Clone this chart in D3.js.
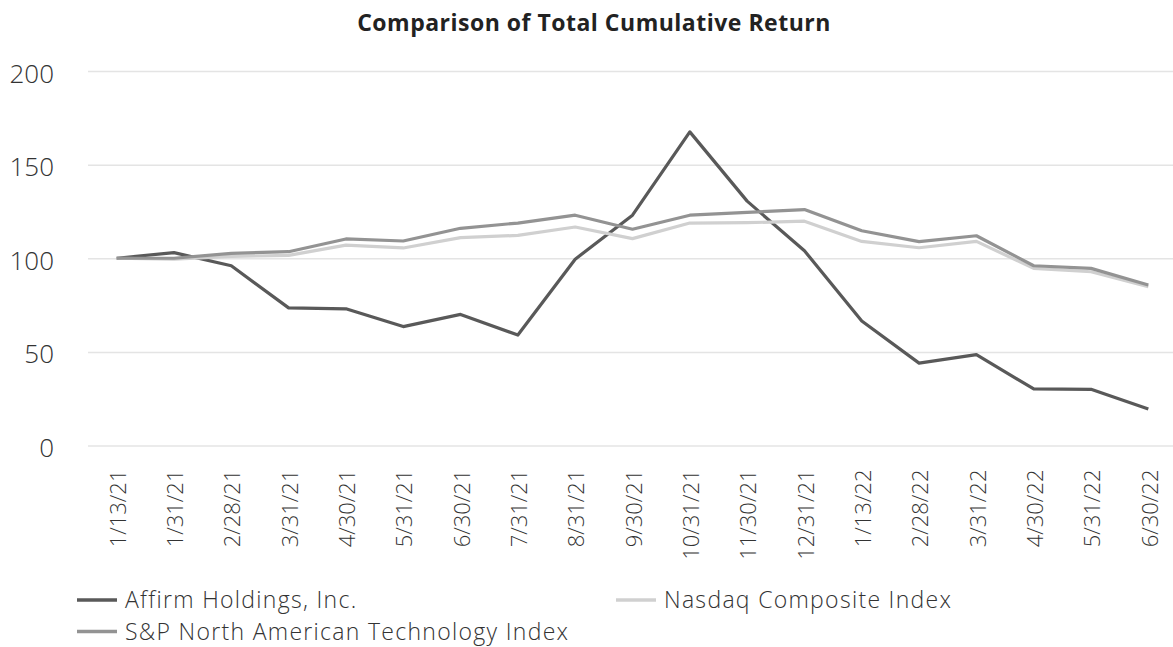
<!DOCTYPE html>
<html>
<head>
<meta charset="utf-8">
<script src="https://cdn.jsdelivr.net/npm/d3@7"></script>
<style>
	body { margin: 0; background: #fff; }
	svg text { font-family: "Open Sans", Lato, sans-serif; }
</style>
</head>
<body>
<svg id="viz" width="1173" height="647"></svg>
<script>
var dates = [ '1/13/21', '1/31/21', '2/28/21', '3/31/21', '4/30/21', '5/31/21', '6/30/21', '7/31/21', '8/31/21',
	'9/30/21', '10/31/21', '11/30/21', '12/31/21', '1/13/22', '2/28/22', '3/31/22', '4/30/22', '5/31/22', '6/30/22' ];

var affirm = [ 100, 103, 96, 73.5, 73, 63.5, 70, 59, 99.5, 123, 167.5, 130.5, 104, 66.5, 44, 48.5, 30.2, 30, 19.5 ];
var nasdaq = [ 100, 99.5, 101, 101.5, 107, 105.5, 111, 112.2, 116.7, 110.5, 118.8, 119, 119.8, 109, 105.6, 109, 94.6, 92.8, 84.8 ];
var spTech = [ 100, 100, 102.6, 103.5, 110.3, 109.2, 116, 118.8, 123, 115.5, 123, 124.5, 126, 114.7, 108.9, 112, 96, 94.6, 85.7 ];

var yTicks = [ 0, 50, 100, 150, 200 ];

var series = [
	{ name: 'Affirm Holdings, Inc.', values: affirm, color: '#595959' },
	{ name: 'Nasdaq Composite Index', values: nasdaq, color: '#d0d0d0' },
	{ name: 'S&P North American Technology Index', values: spTech, color: '#939393' }
];

var svg = d3.select( '#viz' );

var x = d3.scalePoint()
	.domain( dates )
	.range( [ 88, 1177 ] )
	.padding( 0.5 );

var y = d3.scaleLinear()
	.domain( [ 0, 200 ] )
	.range( [ 445.5, 71 ] );

// title
svg.append( 'text' )
	.attr( 'x', 594 )
	.attr( 'y', 31 )
	.attr( 'text-anchor', 'middle' )
	.style( 'font-size', '23px' )
	.style( 'font-weight', 'bold' )
	.style( 'letter-spacing', '0.5px' )
	.style( 'fill', '#222' )
	.text( 'Comparison of Total Cumulative Return' );

// y axis + gridlines
var yAxis = svg.append( 'g' )
	.attr( 'transform', 'translate(88,0)' )
	.call( d3.axisLeft( y ).tickValues( yTicks ).tickSize( -( 1173 - 88 ) ).tickPadding( 0 ) );
yAxis.select( '.domain' ).remove();
yAxis.selectAll( 'line' ).attr( 'stroke', '#e4e4e4' ).attr( 'stroke-width', 1.5 );
yAxis.selectAll( 'text' )
	.attr( 'x', -34 )
	.attr( 'y', 2 )
	.attr( 'dy', '0.35em' )
	.style( 'font-size', '26px' )
	.style( 'font-weight', 300 )
	.style( 'fill', '#333' );

// x axis labels
var xAxis = svg.append( 'g' )
	.attr( 'transform', 'translate(0,' + y( 0 ) + ')' )
	.call( d3.axisBottom( x ).tickSize( 0 ) );
xAxis.select( '.domain' ).remove();
xAxis.selectAll( 'text' )
	.attr( 'transform', 'rotate(-90)' )
	.attr( 'x', -24 )
	.attr( 'y', 1 )
	.attr( 'dy', '0.35em' )
	.attr( 'text-anchor', 'end' )
	.style( 'font-size', '22px' )
	.style( 'font-weight', 300 )
	.style( 'fill', '#333' );

// lines
var line = d3.line()
	.x( function ( d, i ) { return x( dates[i] ); } )
	.y( function ( d ) { return y( d ); } );

svg.selectAll( 'path.series' )
	.data( series )
	.enter()
	.append( 'path' )
	.classed( 'series', true )
	.attr( 'd', function ( d ) { return line( d.values ); } )
	.attr( 'fill', 'none' )
	.attr( 'stroke', function ( d ) { return d.color; } )
	.attr( 'stroke-width', 3.2 )
	.attr( 'stroke-linejoin', 'round' );

// legend
var legendPos = [ [ 77, 600 ], [ 616, 600 ], [ 77, 631.5 ] ];
var legend = svg.selectAll( 'g.legend' )
	.data( series )
	.enter()
	.append( 'g' )
	.classed( 'legend', true )
	.attr( 'transform', function ( d, i ) { return 'translate(' + legendPos[i][0] + ',' + legendPos[i][1] + ')'; } );
legend.append( 'line' )
	.attr( 'x1', 0 ).attr( 'x2', 40 )
	.attr( 'stroke', function ( d ) { return d.color; } )
	.attr( 'stroke-width', 3.5 );
legend.append( 'text' )
	.attr( 'x', 48 )
	.attr( 'dy', '0.35em' )
	.style( 'font-size', '23px' )
	.style( 'font-weight', 300 )
	.style( 'letter-spacing', '1.3px' )
	.style( 'fill', '#333' )
	.text( function ( d ) { return d.name; } );
</script>
</body>
</html>
